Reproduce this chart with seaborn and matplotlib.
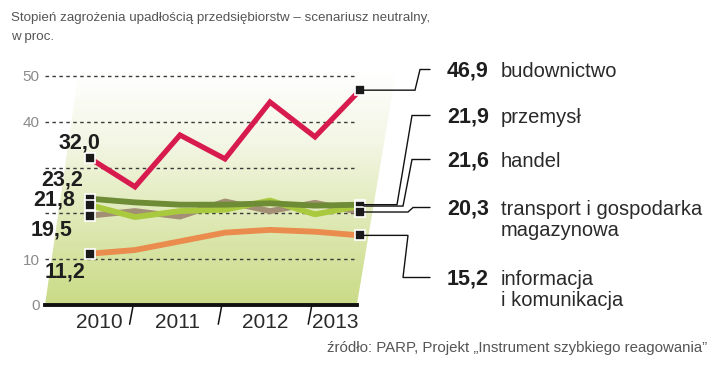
import numpy as np
import pandas as pd
import matplotlib
matplotlib.use("Agg")
import matplotlib.pyplot as plt
import seaborn as sns
from matplotlib import font_manager
from matplotlib.patches import Polygon
from matplotlib.colors import LinearSegmentedColormap

# half-year steps, mid-2010 .. mid-2013
periods = [0, 1, 2, 3, 4, 5, 6]
budownictwo = [32.0, 25.8, 37.1, 31.9, 44.3, 36.7, 46.9]
przemysl = [23.2, 22.4, 21.9, 21.9, 22.2, 21.7, 21.9]
handel = [21.8, 19.2, 20.5, 20.8, 22.8, 19.8, 21.6]
transport = [19.5, 20.5, 19.3, 22.6, 20.5, 22.3, 20.3]
informacja = [11.2, 12.0, 13.9, 15.8, 16.4, 16.0, 15.2]

names = ["budownictwo", "przemysł", "handel",
         "transport i gospodarka\nmagazynowa", "informacja\ni komunikacja"]
series = [budownictwo, przemysl, handel, transport, informacja]
colors = ["#d81b4f", "#6e8b35", "#a9c93f", "#a38e76", "#ea8c4e"]

years = ["2010", "2011", "2012", "2013"]
year_pos = [0.2, 1.95, 3.9, 5.45]
quarter_ticks = [-0.5, 0, 0.5, 1.5, 2, 2.5, 3.5, 4, 4.5, 5.5]
year_breaks = [0.96, 2.93, 4.93]

title = "Stopień zagrożenia upadłością przedsiębiorstw – scenariusz neutralny,\nw proc."
source = "źródło: PARP, Projekt „Instrument szybkiego reagowania”"

sns.set_style("white")
avail = {f.name for f in font_manager.fontManager.ttflist}
narrow = "Liberation Sans Narrow" if "Liberation Sans Narrow" in avail else None
plt.rcParams["font.family"] = ["Liberation Sans", "DejaVu Sans"]

rows = []
for n, vals in zip(names, series):
    for p, v in zip(periods, vals):
        rows.append({"okres": p, "wartosc": v, "branza": n})
df = pd.DataFrame(rows)

W, H = 720, 366
fig = plt.figure(figsize=(W / 100, H / 100), dpi=100)
ax = fig.add_axes([45 / W, 61 / H, 355.5 / W, 238.2 / H])
ax.set_facecolor("none")

# slanted gradient backdrop
poly = Polygon([(-1, 0), (-0.25, 51), (6.8, 51), (5.93, 0)], closed=True,
               facecolor="none", edgecolor="none", transform=ax.transData)
ax.add_patch(poly)
cmap = LinearSegmentedColormap.from_list("bg", ["#cadc88", "#dfe9b6", "#f3f6e4", "#ffffff"])
grad = np.linspace(0, 1, 256).reshape(-1, 1) ** 1.1
im = ax.imshow(grad, extent=(-1, 6.8, 0, 51), origin="lower", aspect="auto",
               cmap=cmap, zorder=0)
im.set_clip_path(poly)

ax.hlines([10, 20, 30, 40, 50], -1, 5.93, colors="#3a3a3a", lw=1,
          linestyles=(0, (2.5, 2.5)), zorder=1)

order = [4, 3, 2, 1, 0]
for i in order:
    sub = df[df["branza"] == names[i]]
    sns.lineplot(data=sub, x="okres", y="wartosc", ax=ax, color=colors[i],
                 lw=4.2 if i else 3.8, zorder=3 + (i == 0), legend=False)
for line in ax.lines:
    line.set_solid_joinstyle("miter" if line.get_color() == colors[0] else "round")

for i, vals in enumerate(series):
    ax.plot([periods[0], periods[-1]], [vals[0], vals[-1]], ls="none", marker="s",
            ms=6.5, mfc="#1a1a1a", mec="white", mew=1.2, zorder=6, clip_on=False)

# start labels
start_off = [(10, 15), (-7, 19), (-15, 5), (-18, -14), (-5, -18)]
for vals, off in zip(series, start_off):
    ax.annotate(f"{vals[0]:.1f}".replace(".", ","), (periods[0], vals[0]),
                xytext=off, textcoords="offset pixels", ha="right", va="center",
                fontsize=15.5, fontweight="bold", color="#1e1e1e", zorder=7)

ax.set_xlim(-1, 6.9)
ax.set_ylim(0, 52)
ax.set_yticks([0, 10, 20, 30, 40, 50], ["0", "10", "", "", "40", "50"])
ax.tick_params(axis="y", length=0, pad=4, labelsize=11, labelcolor="#8a8a8a")
ax.set_xticks(year_pos, years)
ax.set_xticks(quarter_ticks, minor=True)
ax.tick_params(axis="x", which="major", length=0, pad=6, labelsize=15, labelcolor="#2a2a2a")
ax.tick_params(axis="x", which="minor", length=5, width=1.2, color="#1a1a1a", direction="out")
for s in ax.spines.values():
    s.set_visible(False)
ax.spines["bottom"].set_visible(True)
ax.spines["bottom"].set_bounds(-1, 5.93)
ax.spines["bottom"].set_linewidth(2.8)
ax.spines["bottom"].set_color("#111111")
ax.spines["bottom"].set_zorder(5)
for xb in year_breaks:
    ax.plot([xb, xb - 0.08], [0, -4.2], color="#111111", lw=1.1, clip_on=False)
ax.set_xlabel("")
ax.set_ylabel("")

# overlay in pixel space for the right-hand labels
ov = fig.add_axes([0, 0, 1, 1], zorder=10)
ov.set_xlim(0, W)
ov.set_ylim(H, 0)
ov.axis("off")
ov.patch.set_visible(False)

label_base = [77, 123, 167, 215, 285]
knee_x = [415, 397, 403, 408, 408]
slant_x = [420, 412, 412, 413, 403]
to_ov = ov.transData.inverted()
for i, vals in enumerate(series):
    mx, my = to_ov.transform(ax.transData.transform((periods[-1], vals[-1])))
    ly = label_base[i] - 7.5
    ov.plot([mx + 4, knee_x[i], slant_x[i], 430], [my, my, ly, ly],
            color="#111111", lw=1, solid_joinstyle="miter", zorder=1)
    ov.text(447, label_base[i], f"{vals[-1]:.1f}".replace(".", ","), ha="left",
            va="baseline", fontsize=15.5, fontweight="bold", color="#1e1e1e")
    for k, part in enumerate(names[i].split("\n")):
        ov.text(501, label_base[i] + 21 * k, part, ha="left", va="baseline",
                fontsize=14.5, color="#2a2a2a")

tfam = [narrow, "Liberation Sans"] if narrow else ["Liberation Sans"]
for k, part in enumerate(title.split("\n")):
    ov.text(11, 21 + 19 * k, part, ha="left", va="baseline",
            fontsize=12.5 if narrow else 9.6, color="#555555", family=tfam)
ov.text(707, 352, source, ha="right", va="baseline", fontsize=11.5 if narrow else 10.8,
        color="#555555", family=tfam)

fig.savefig("out.png", dpi=100)
